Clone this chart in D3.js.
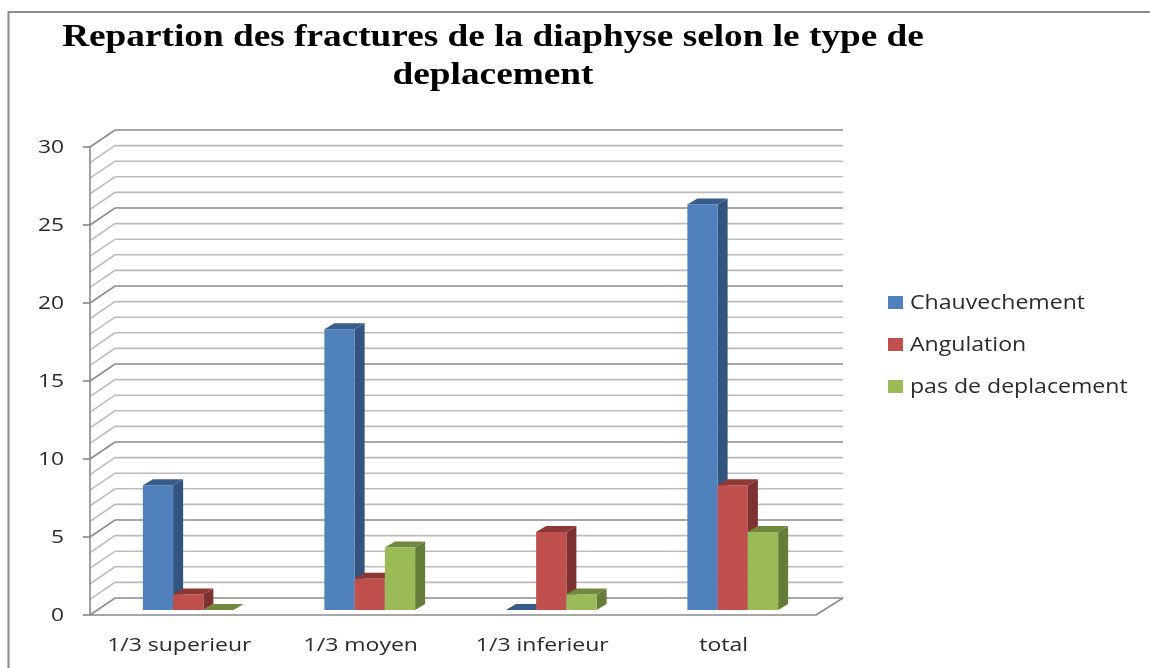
<!DOCTYPE html>
<html><head><meta charset="utf-8">
<script src="https://cdn.jsdelivr.net/npm/d3@7"></script>
<style>html,body{margin:0;padding:0;background:#fff}svg{display:block;filter:blur(0.35px)}</style>
</head><body><svg id="c" width="1150" height="668"></svg>
<script>
const titleLines = ["Repartion des fractures de la diaphyse selon le type de", "deplacement"];
const categories = ["1/3 superieur", "1/3 moyen", "1/3 inferieur", "total"];
const seriesNames = ["Chauvechement", "Angulation", "pas de deplacement"];
const chauvechement = [8, 18, 0, 26];
const angulation = [1, 2, 5, 8];
const pasDeDeplacement = [0, 4, 1, 5];
const yTicks = [0, 5, 10, 15, 20, 25, 30];
const minorTicks = d3.range(0, 31);
const seriesValues = [chauvechement, angulation, pasDeDeplacement];
const faceColors = ["#4f81bd", "#c0504d", "#9bbb59"];
const topColors = ["#385d8a", "#8c3836", "#71893f"];
const sideColors = ["#33547e", "#7d3231", "#667d39"];

const svg = d3.select("#c");
const font = "'Open Sans'";
const labelColor = "#2b2b2b";
const y = d3.scaleLinear().domain([0, 30]).range([615, 147]);
const x = d3.scaleBand().domain(categories).range([97.5, 823.5]).paddingInner(0.5).paddingOuter(0.25);
const xS = d3.scaleBand().domain(d3.range(3)).range([0, x.bandwidth()]);
const wall = {dx: 25, dy: -17, left: 90, right: 818};
const barDepth = {dx: 10, dy: -6};
const barBase = -5;

function stretched(px, py, anchor, sx, size, fill, family, weight, str) {
  return svg.append("text")
    .attr("transform", `translate(${px},${py}) scale(${sx},1)`)
    .attr("text-anchor", anchor).attr("font-family", family)
    .attr("font-size", size).attr("font-weight", weight).attr("fill", fill).text(str);
}

svg.append("path").attr("d", "M8.5,668V12H1150").attr("fill", "none").attr("stroke", "#8c8c8c").attr("stroke-width", 2);

const grid = svg.append("g").attr("fill", "none");
minorTicks.forEach(v => {
  const major = v % 5 === 0;
  grid.append("path")
    .attr("d", `M${wall.left},${y(v)}L${wall.left + wall.dx},${y(v) + wall.dy}H${wall.right + wall.dx}`)
    .attr("stroke", major ? "#8a8a8a" : "#bcbcbc").attr("stroke-width", 1.6);
});
svg.append("path")
  .attr("d", `M${wall.left},${y(0)}H${wall.right - 2}L${wall.right + wall.dx},${y(0) + wall.dy}`)
  .attr("fill", "none").attr("stroke", "#8a8a8a").attr("stroke-width", 1.6);
svg.append("path").attr("d", `M${wall.left},${y(30)}V${y(0)}`).attr("stroke", "#8a8a8a").attr("stroke-width", 1.6);
yTicks.forEach(v => {
  svg.append("path").attr("d", `M${wall.left - 7},${y(v)}H${wall.left}`).attr("stroke", "#8a8a8a").attr("stroke-width", 1.6);
  stretched(64, y(v) + 5.5, "end", 1.2, 19, labelColor, font, 400, v);
});

seriesValues.forEach((vals, s) => {
  const g = svg.append("g");
  vals.forEach((v, i) => {
    const x0 = x(categories[i]) + xS(s), w = xS.bandwidth();
    const top = y(v) + barBase, base = y(0) + barBase;
    const d = barDepth;
    g.append("path").attr("fill", sideColors[s])
      .attr("d", `M${x0 + w},${top}l${d.dx},${d.dy}V${base + d.dy}L${x0 + w},${base}Z`);
    g.append("path").attr("fill", topColors[s])
      .attr("d", `M${x0},${top}l${d.dx},${d.dy}h${w}l${-d.dx},${-d.dy}Z`);
    g.append("rect").attr("x", x0).attr("y", top).attr("width", w).attr("height", base - top).attr("fill", faceColors[s]);
  });
});

categories.forEach(c => {
  stretched(x(c) + x.bandwidth() / 2 - 9, 651, "middle", 1.21, 19, labelColor, font, 400, c);
});

seriesNames.forEach((n, i) => {
  const ly = 302 + i * 42;
  svg.append("rect").attr("x", 888).attr("y", ly - 6).attr("width", 15).attr("height", 13).attr("fill", faceColors[i]);
  stretched(910, ly + 7, "start", 1.185, 19.5, labelColor, font, 400, n);
});

titleLines.forEach((t, i) => {
  stretched(493, 46 + i * 38, "middle", 1.165, 32, "#000", "'Liberation Serif'", "bold", t);
});
</script></body></html>
